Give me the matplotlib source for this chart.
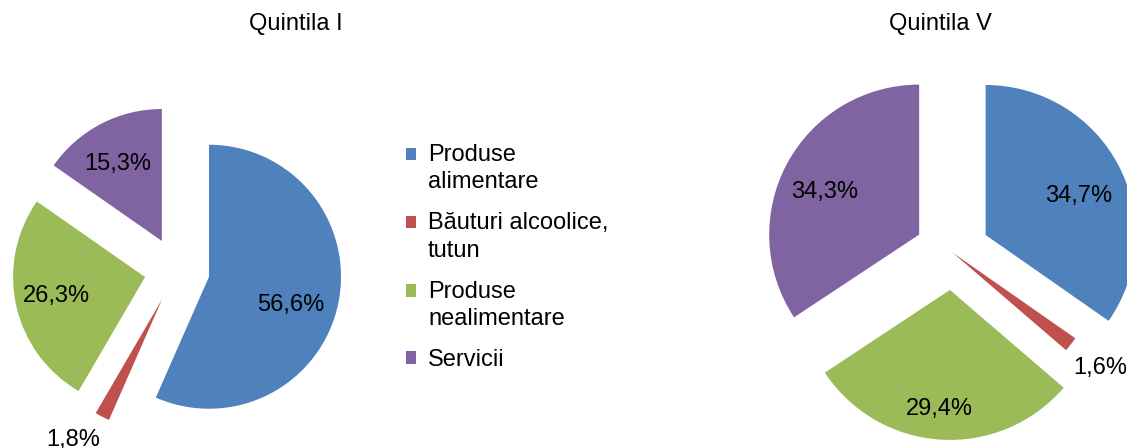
import matplotlib
matplotlib.use("Agg")
import matplotlib.pyplot as plt
import matplotlib.patches as mpatches
from matplotlib.legend_handler import HandlerPatch
import numpy as np

plt.rcParams['font.family'] = ['Liberation Sans', 'DejaVu Sans']

categories = ["Produse\nalimentare", "Băuturi alcoolice,\ntutun", "Produse\nnealimentare", "Servicii"]
colors = ["#4F81BD", "#C0504D", "#9BBB59", "#8064A2"]
titles = ["Quintila I", "Quintila V"]
values_q1 = [56.6, 1.8, 26.3, 15.3]
values_q5 = [34.7, 1.6, 29.4, 34.3]

W, H = 1127, 448
FS = 17
LSP = 1.32
fig = plt.figure(figsize=(W / 100, H / 100), dpi=100)
ax = fig.add_axes([0, 0, 1, 1])


def fmt(v):
    return f"{v:.1f}%".replace('.', ',')


def draw(values, center, radius, explode, dists, dangs):
    wedges, _ = ax.pie(values, center=center, radius=radius, explode=explode,
                       colors=colors, startangle=90, counterclock=False,
                       wedgeprops=dict(linewidth=0, edgecolor='none'))
    for w, v, d, da in zip(wedges, values, dists, dangs):
        th = np.deg2rad((w.theta1 + w.theta2) / 2 + da)
        cx, cy = w.center
        ax.text(cx + d * w.r * np.cos(th), cy + d * w.r * np.sin(th) - 3, fmt(v),
                ha='center', va='center', fontsize=FS, color='black')
    return wedges


wl = draw(values_q1, (177, H - 270), 132, [32.7, 32.7, 32.7, 32.7],
          [0.644, 1.24, 0.68, 0.69], [-5.2, -5.9, -2.1, 1.3])
wr = draw(values_q5, (952.3, H - 252.4), 150, [37.6, 0, 37.6, 37.6],
          [0.68, 1.24, 0.78, 0.70], [-3.0, 0.5, -1.5, 2.8])

ax.set_xlim(0, W)
ax.set_ylim(0, H)
ax.set_aspect('equal')
ax.set_axis_off()

fig.text(296 / W, 1 - 24 / H, titles[0], ha='center', va='center', fontsize=FS)
fig.text(940 / W, 1 - 24 / H, titles[1], ha='center', va='center', fontsize=FS)


def square(legend, orig_handle, xdescent, ydescent, width, height, fontsize):
    nlines = orig_handle.get_label().count('\n') + 1
    shift = (nlines - 1) * 0.5 * 0.965 * LSP * fontsize
    return mpatches.Rectangle((-xdescent, -ydescent + shift), width, height)


for w, lab in zip(wl, categories):
    w.set_label(lab)

leg = fig.legend(handles=wl, labels=categories, loc='upper left',
                 bbox_to_anchor=(406 / W, 1 - 144 / H), frameon=False,
                 fontsize=FS, handlelength=0.43, handleheight=0.43,
                 handletextpad=0.5, labelspacing=0.8, borderpad=0, borderaxespad=0,
                 handler_map={mpatches.Wedge: HandlerPatch(patch_func=square)})
for t in leg.get_texts():
    t.set_linespacing(LSP)

fig.savefig("out.png", dpi=100)
